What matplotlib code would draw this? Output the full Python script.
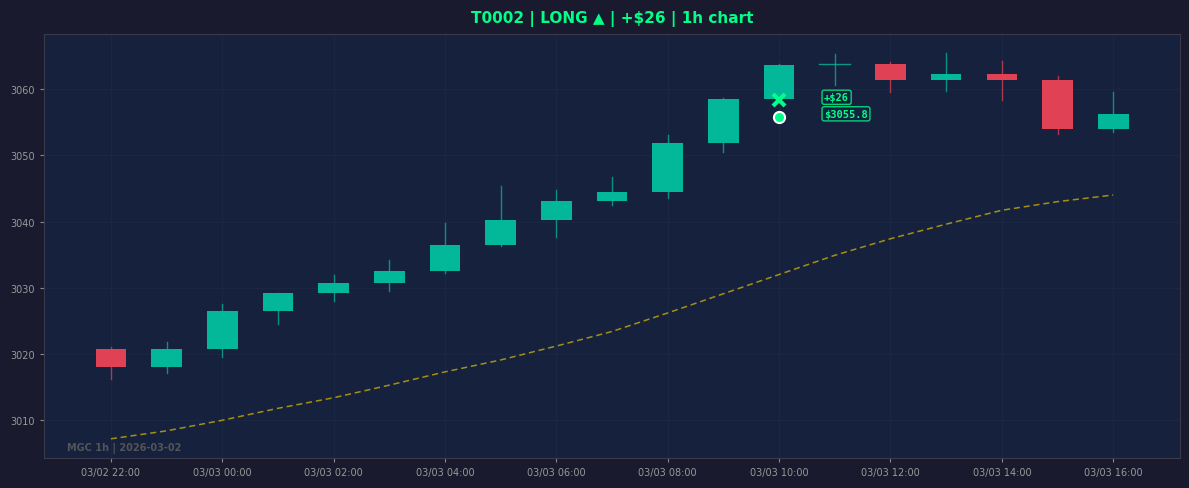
import matplotlib
matplotlib.use("Agg")
import matplotlib.pyplot as plt
from matplotlib.patches import Rectangle

# ---- data ----
times = ["03/02 22:00", "03/02 23:00", "03/03 00:00", "03/03 01:00", "03/03 02:00",
         "03/03 03:00", "03/03 04:00", "03/03 05:00", "03/03 06:00", "03/03 07:00",
         "03/03 08:00", "03/03 09:00", "03/03 10:00", "03/03 11:00", "03/03 12:00",
         "03/03 13:00", "03/03 14:00", "03/03 15:00", "03/03 16:00"]
opens  = [3020.7, 3018.0, 3020.8, 3026.5, 3029.2, 3030.7, 3032.5, 3036.5, 3040.2, 3043.1,
          3044.5, 3051.9, 3058.5, 3063.7, 3063.8, 3061.4, 3062.3, 3061.4, 3053.9]
closes = [3018.0, 3020.7, 3026.5, 3029.2, 3030.7, 3032.5, 3036.4, 3040.2, 3043.1, 3044.4,
          3051.8, 3058.5, 3063.6, 3063.7, 3061.4, 3062.3, 3061.4, 3053.9, 3056.2]
highs  = [3021.0, 3021.8, 3027.5, 3029.2, 3032.0, 3034.2, 3039.8, 3045.3, 3044.7, 3046.7,
          3053.0, 3058.6, 3063.8, 3065.3, 3064.1, 3065.4, 3064.2, 3062.0, 3059.5]
lows   = [3016.2, 3017.1, 3019.6, 3024.5, 3028.0, 3029.5, 3032.2, 3036.3, 3037.7, 3042.5,
          3043.6, 3050.5, 3058.5, 3060.6, 3059.6, 3059.7, 3058.4, 3053.2, 3053.5]
ma_line = [3007.2, 3008.4, 3010.0, 3011.8, 3013.4, 3015.3, 3017.3, 3019.1, 3021.2, 3023.4,
           3026.2, 3029.1, 3032.0, 3034.9, 3037.4, 3039.6, 3041.7, 3043.0, 3044.0]
entry_idx = 12
entry_price = 3055.8
exit_price = 3058.3
pnl_label = "+$26"
price_label = "$3055.8"
title = "T0002 | LONG \u25b2 | +$26 | 1h chart"
watermark = "MGC 1h | 2026-03-02"

# ---- style ----
FIG_BG = "#1a1a2e"
AX_BG = "#16213e"
GREEN = "#03b898"
RED = "#e04155"
BRIGHT = "#00ff88"

fig = plt.figure(figsize=(11.89, 4.89), dpi=100, facecolor=FIG_BG)
ax = fig.add_axes([0.037, 0.0613, 0.9555, 0.8671])
ax.set_facecolor(AX_BG)

xs = list(range(len(times)))
w = 0.55
for i in xs:
    o, c, h, l = opens[i], closes[i], highs[i], lows[i]
    col = GREEN if c >= o else RED
    ax.plot([i, i], [l, h], color=col, lw=1.0, zorder=3, alpha=0.75)
    if abs(c - o) < 0.05:
        ax.plot([i - w / 2, i + w / 2], [o, o], color=GREEN, lw=1.0, zorder=3, alpha=0.8)
    else:
        ax.add_patch(Rectangle((i - w / 2, min(o, c)), w, abs(c - o),
                               facecolor=col, edgecolor="none", zorder=2))

ax.plot(xs, ma_line, color="#e0c000", alpha=0.7, lw=1.1, ls=(0, (4, 2.5)), zorder=1)

# entry / exit markers
ax.plot([entry_idx], [exit_price], marker="x", color=BRIGHT, ms=9, mew=3, zorder=5)
ax.plot([entry_idx], [entry_price], marker="o", color=BRIGHT, mec="white", mew=1.5,
        ms=8, zorder=5)

bbox = dict(boxstyle="round,pad=0.2", facecolor=AX_BG, edgecolor=BRIGHT, alpha=0.8, lw=1)
ax.annotate(pnl_label, xy=(entry_idx, exit_price), xytext=(45, 3), textcoords="offset pixels",
            color=BRIGHT, fontsize=7.5, fontweight="bold", family="DejaVu Sans Mono",
            va="center", ha="left", bbox=bbox, zorder=6)
ax.annotate(price_label, xy=(entry_idx, entry_price), xytext=(45, 3), textcoords="offset pixels",
            color=BRIGHT, fontsize=7.5, fontweight="bold", family="DejaVu Sans Mono",
            va="center", ha="left", bbox=bbox, zorder=6)

ax.set_xlim(-1.2, len(times) - 1 + 1.2)
ax.set_ylim(3004.3, 3068.3)
ax.set_xticks(xs[::2])
ax.set_xticklabels(times[::2])
ax.set_yticks([3010, 3020, 3030, 3040, 3050, 3060])
ax.tick_params(colors="#999999", labelsize=7, length=3)
ax.tick_params(axis="both", color="#888888")
ax.grid(True, color="#2a3555", alpha=0.3, lw=0.6)
ax.set_axisbelow(True)
for s in ax.spines.values():
    s.set_color("#3a3a4a")

ax.text(0.02, 0.012, watermark, transform=ax.transAxes, color="#5a5a5a", fontsize=7,
        fontweight="bold", alpha=0.9, ha="left", va="bottom")

fig.suptitle(title, color=BRIGHT, fontsize=11, fontweight="bold", x=0.515, y=0.978)

fig.savefig("out.png", dpi=100, facecolor=FIG_BG)
